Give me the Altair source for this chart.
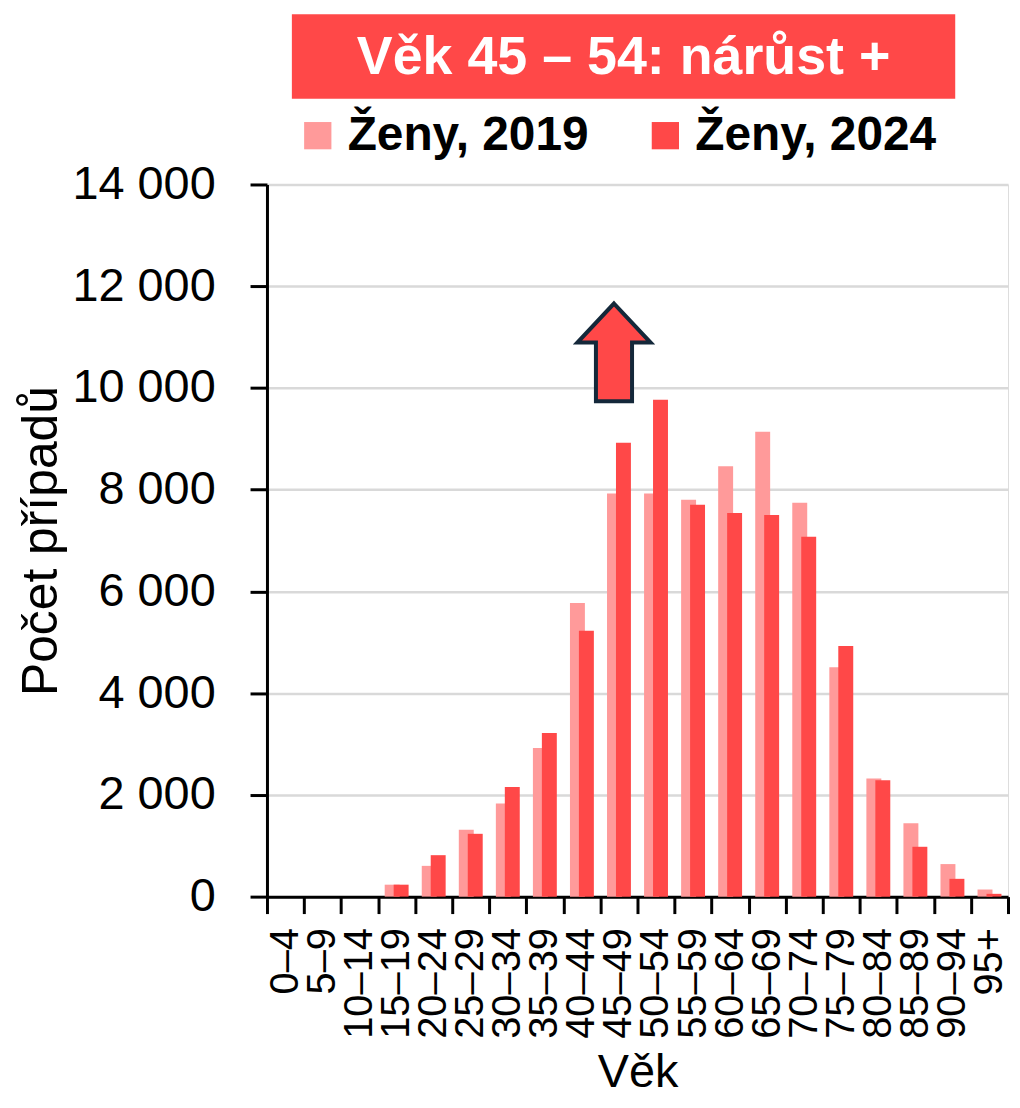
import altair as alt
import pandas as pd

categories = ["0–4", "5–9", "10–14", "15–19", "20–24", "25–29", "30–34", "35–39",
              "40–44", "45–49", "50–54", "55–59", "60–64", "65–69", "70–74", "75–79",
              "80–84", "85–89", "90–94", "95+"]
zeny_2019 = [0, 0, 0, 235, 605, 1315, 1830, 2920, 5770, 7925, 7925, 7800, 8460,
             9140, 7745, 4510, 2320, 1445, 640, 140]
zeny_2024 = [0, 0, 0, 235, 815, 1235, 2155, 3215, 5225, 8925, 9770, 7705, 7540,
             7500, 7075, 4925, 2290, 980, 350, 55]
series = ["Ženy, 2019", "Ženy, 2024"]
colors = ["#ff9a9a", "#ff4848"]
y_ticks = [0, 2000, 4000, 6000, 8000, 10000, 12000, 14000]
banner_text = "Věk 45 – 54: nárůst +"
arrow_category = "45–49"
arrow_value = 10700

FONT = "Liberation Sans"

rows = []
for c, v in zip(categories, zeny_2019):
    rows.append({"Věk": c, "Rok": series[0], "Počet": v})
for c, v in zip(categories, zeny_2024):
    rows.append({"Věk": c, "Rok": series[1], "Počet": v})
df = pd.DataFrame(rows)

x_enc = alt.X(
    "Věk:N", sort=categories,
    scale=alt.Scale(domain=categories, paddingInner=0, paddingOuter=0),
    axis=alt.Axis(
        title="Věk", labelAngle=-90, labelFont=FONT, labelFontSize=40,
        labelColor="black", labelPadding=14, tickSize=17, tickWidth=3,
        tickColor="black", tickBand="extent", domainColor="black",
        domainWidth=3, titleFont=FONT, titleFontSize=47,
        titleFontWeight="normal", titleColor="black", titleY=191,
        titleBaseline="alphabetic", grid=False, labelOverlap=False,
    ),
)
y_enc = alt.Y(
    "Počet:Q",
    scale=alt.Scale(domain=[0, 14000], nice=False),
    axis=alt.Axis(
        title="Počet případů", values=y_ticks,
        labelExpr="replace(format(datum.value, ','), ',', ' ')",
        labelFont=FONT, labelFontSize=47, labelColor="black",
        labelPadding=35, tickSize=17, tickWidth=3, tickColor="black",
        domainColor="black", domainWidth=3, gridColor="#d9d9d9",
        gridWidth=2.5, titleFont=FONT, titleFontSize=50,
        titleFontWeight="normal", titleColor="black", titleX=-211,
        titleBaseline="alphabetic",
    ),
)
color_enc = alt.Color(
    "Rok:N",
    scale=alt.Scale(domain=series, range=colors),
    legend=alt.Legend(
        title=None, orient="none", legendX=27, legendY=-73,
        direction="horizontal", symbolType="square", symbolSize=750,
        symbolStrokeWidth=0, symbolOpacity=1, labelFont=FONT,
        labelFontSize=48, labelFontWeight="bold", labelColor="black",
        labelOffset=6, labelLimit=0, columnPadding=53, padding=0,
    ),
)

base = alt.Chart(df)
bars_2019 = base.transform_filter(alt.datum.Rok == series[0]).mark_bar(
    size=15, xOffset=-4.5, opacity=1
).encode(x=x_enc, y=y_enc, color=color_enc)
bars_2024 = base.transform_filter(alt.datum.Rok == series[1]).mark_bar(
    size=15, xOffset=4.5, opacity=1
).encode(x=x_enc, y=y_enc, color=color_enc)

arrow_df = pd.DataFrame({"Věk": [arrow_category], "Počet": [arrow_value]})
arrow_path = ("M0,-1 L0.75,-0.2 L0.37,-0.2 L0.37,1 L-0.37,1 "
              "L-0.37,-0.2 L-0.75,-0.2 Z")
arrow = alt.Chart(arrow_df).mark_point(
    shape=arrow_path, size=9604, filled=True, fill="#ff4848",
    stroke="#14283a", strokeWidth=4, opacity=1, fillOpacity=1,
    strokeOpacity=1, xOffset=-5,
).encode(x=alt.X("Věk:N", sort=categories), y=alt.Y("Počet:Q"))

banner_df = pd.DataFrame({"t": [banner_text]})
banner_rect = alt.Chart(banner_df).mark_rect(color="#ff4848").encode(
    x=alt.value(25), x2=alt.value(691), y=alt.value(-171), y2=alt.value(-86)
)
banner_label = alt.Chart(banner_df).mark_text(
    font=FONT, fontSize=54, fontWeight="bold", color="white",
    align="center", baseline="middle",
).encode(text="t:N", x=alt.value(358), y=alt.value(-127))

chart = alt.layer(bars_2019, bars_2024, arrow, banner_rect, banner_label).properties(
    width=744, height=715,
    autosize=alt.AutoSizeParams(type="none"),
    padding={"left": 260, "top": 175, "right": 4, "bottom": 202},
).configure_view(stroke=None).configure(background="white")

chart.save("out.html", embed_options={"renderer": "svg", "actions": False})
